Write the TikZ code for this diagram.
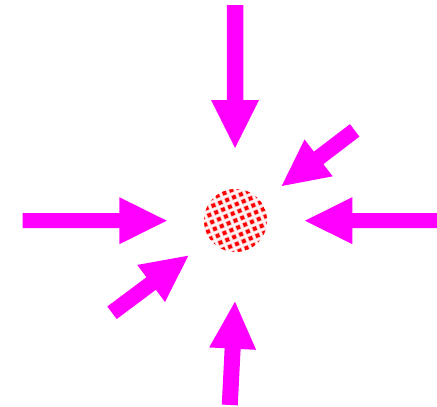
\documentclass[tikz,border=0pt]{standalone}
\definecolor{mag}{RGB}{255,0,255}
\newcommand\fatarr[7]{% tipx tipy angle length shaftw headw headl
  \begin{scope}[shift={(#1,#2)},rotate=-#3]
    \fill[mag] (0,0) -- (-#7,#6/2) -- (-#7,#5/2) -- (-#4,#5/2) -- (-#4,-#5/2) -- (-#7,-#5/2) -- (-#7,-#6/2) -- cycle;
  \end{scope}}
\begin{document}
\begin{tikzpicture}[x=1pt,y=-1pt]
\useasboundingbox (0,0) rectangle (437,407);
% arrows
\fatarr{235}{148}{90}{143}{16.5}{48}{48}
\fatarr{235}{301.7}{-87.1}{103.4}{16}{47}{47}
\fatarr{166.7}{220.7}{0}{144}{15}{47}{47.4}
\fatarr{305}{220.7}{180}{132}{15}{47}{47.3}
\fatarr{281.7}{186}{142.7}{91.8}{15.7}{46.4}{46.4}
\fatarr{188.3}{255.7}{-36.8}{95.3}{15.7}{46.4}{46.4}
% dotted ball
\begin{scope}
  \clip (235.5,220.5) circle (31.5);
  \fill[red!3] (235.5,220.5) circle (31.5);
  \begin{scope}[shift={(235.5,220.5)},rotate=22]
    \foreach \i in {-6,...,6}{
      \foreach \j in {-6,...,6}{
        \fill[red!22] (\i*7.4-2.7,\j*7.4-2.7) rectangle ++(5.4,5.4);
        \fill[red] (\i*7.4-1.9,\j*7.4-1.9) rectangle ++(3.8,3.8);
      }}
  \end{scope}
\end{scope}
\end{tikzpicture}
\end{document}
